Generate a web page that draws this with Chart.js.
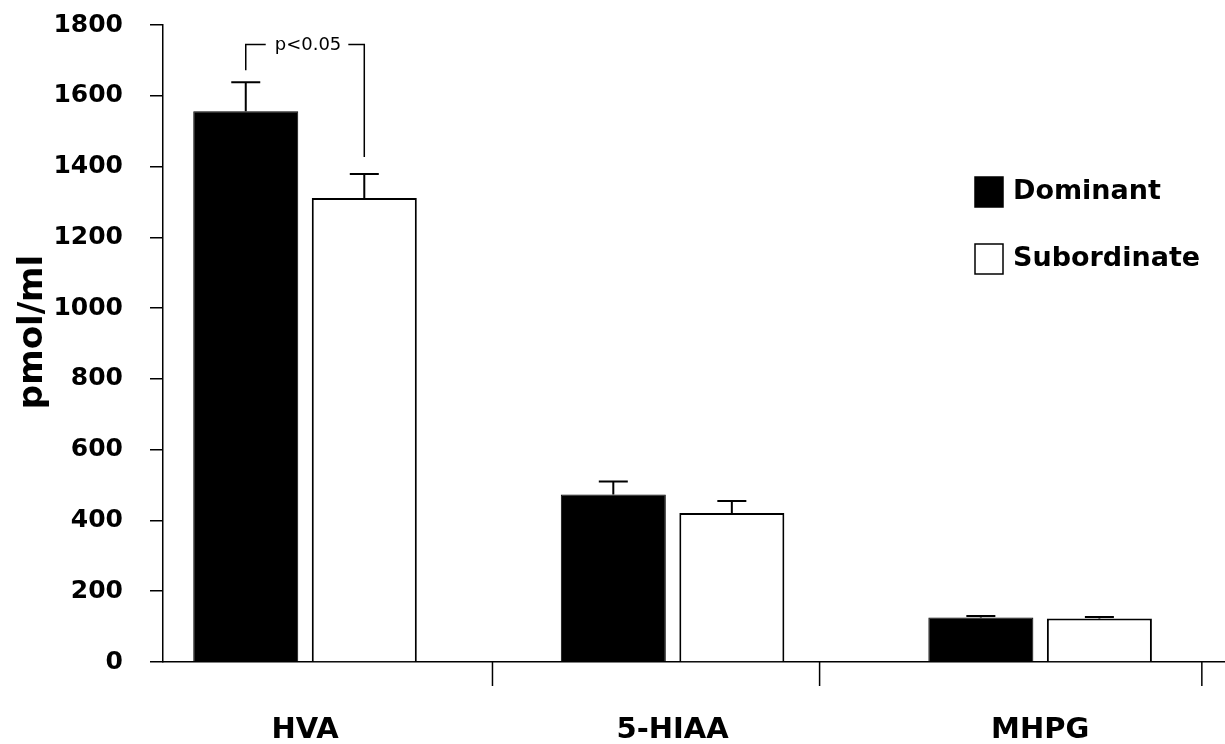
<!DOCTYPE html>
<html lang="en">
<head>
    <meta charset="UTF-8">
    <title>pmol/ml by group</title>
    <script src="https://cdn.jsdelivr.net/npm/chart.js"></script>
    <style>
        body {
            margin: 0;
            padding: 0;
            background: #fff;
        }
        .chart-container {
            position: relative;
            width: 1225px;
            height: 744px;
        }
    </style>
</head>
<body>

    <div class="chart-container">
        <canvas id="barChart"></canvas>
    </div>

    <script>
        const categories = ['HVA', '5-HIAA', 'MHPG'];
        const seriesNames = ['Dominant', 'Subordinate'];
        const dominant = [1556, 473, 126];
        const subordinate = [1311, 421, 123];
        const dominantErr = [82, 37, 4];     // SEM, upper whisker only
        const subordinateErr = [68, 34, 4];
        const yTicks = [0, 200, 400, 600, 800, 1000, 1200, 1400, 1600, 1800];
        const xTickMarks = [1.51, 2.40, 3.44]; // stray tick marks under the axis
        const sigLabel = 'p<0.05';
        const sigBracket = [1672, 1745, 1427]; // left leg bottom, top line, right leg bottom
        const yTitle = 'pmol/ml';

        const FONT = 'DejaVu Sans';

        // error bars on top of each bar
        const errorBars = {
            id: 'errorBars',
            afterDatasetsDraw(chart) {
                const ctx = chart.ctx;
                const y = chart.scales.y;
                const errs = [dominantErr, subordinateErr];
                const vals = [dominant, subordinate];
                ctx.save();
                ctx.strokeStyle = '#000';
                ctx.lineWidth = 2;
                chart.data.datasets.forEach((ds, i) => {
                    chart.getDatasetMeta(i).data.forEach((bar, j) => {
                        const top = y.getPixelForValue(vals[i][j] + errs[i][j]);
                        ctx.beginPath();
                        ctx.moveTo(bar.x, bar.y);
                        ctx.lineTo(bar.x, top);
                        ctx.moveTo(bar.x - 14.5, top);
                        ctx.lineTo(bar.x + 14.5, top);
                        ctx.stroke();
                    });
                });
                ctx.restore();
            }
        };

        // significance bracket, legend, axis title, tick marks under x axis
        const extras = {
            id: 'extras',
            afterDraw(chart) {
                const ctx = chart.ctx;
                const x = chart.scales.x;
                const y = chart.scales.y;
                const area = chart.chartArea;
                ctx.save();
                ctx.strokeStyle = '#000';
                ctx.fillStyle = '#000';
                ctx.lineWidth = 1.5;

                // tick marks
                xTickMarks.forEach(v => {
                    const px = x.getPixelForValue(v);
                    ctx.beginPath();
                    ctx.moveTo(px, area.bottom);
                    ctx.lineTo(px, area.bottom + 24);
                    ctx.stroke();
                });

                // bracket
                const lx = chart.getDatasetMeta(0).data[0].x;
                const rx = chart.getDatasetMeta(1).data[0].x;
                const ty = y.getPixelForValue(sigBracket[1]);
                ctx.font = '18px "' + FONT + '"';
                const w = ctx.measureText(sigLabel).width;
                const cx = (lx + rx) / 2 + 3;
                ctx.beginPath();
                ctx.moveTo(lx, y.getPixelForValue(sigBracket[0]));
                ctx.lineTo(lx, ty);
                ctx.lineTo(cx - w / 2 - 9, ty);
                ctx.moveTo(cx + w / 2 + 7, ty);
                ctx.lineTo(rx, ty);
                ctx.lineTo(rx, y.getPixelForValue(sigBracket[2]));
                ctx.stroke();
                ctx.textAlign = 'center';
                ctx.textBaseline = 'middle';
                ctx.fillText(sigLabel, cx, ty + 1);

                // y axis title
                ctx.save();
                ctx.translate(33, 332);
                ctx.rotate(-Math.PI / 2);
                ctx.font = 'bold 34px "' + FONT + '"';
                ctx.fillText(yTitle, 0, 0);
                ctx.restore();

                // legend
                ctx.font = 'bold 27px "' + FONT + '"';
                ctx.textAlign = 'left';
                const rows = [192, 259];
                chart.data.datasets.forEach((ds, i) => {
                    const cy = rows[i];
                    ctx.fillStyle = ds.backgroundColor;
                    ctx.fillRect(975, cy - 15, 28, 30);
                    ctx.strokeRect(975, cy - 15, 28, 30);
                    ctx.fillStyle = '#000';
                    ctx.fillText(ds.label, 1013, cy);
                });
                ctx.restore();
            }
        };

        const ctx = document.getElementById('barChart').getContext('2d');
        const barChart = new Chart(ctx, {
            type: 'bar',
            data: {
                datasets: [{
                    label: seriesNames[0],
                    data: dominant.map((v, i) => ({ x: i + 1, y: v })),
                    backgroundColor: '#000',
                    borderColor: '#000',
                    borderWidth: 1
                }, {
                    label: seriesNames[1],
                    data: subordinate.map((v, i) => ({ x: i + 1, y: v })),
                    backgroundColor: '#fff',
                    borderColor: '#000',
                    borderWidth: 2
                }]
            },
            options: {
                responsive: true,
                maintainAspectRatio: false,
                animation: false,
                categoryPercentage: 0.645,
                barPercentage: 0.886,
                layout: {
                    padding: { top: 25, right: 0, bottom: 0, left: 0 }
                },
                scales: {
                    x: {
                        type: 'linear',
                        min: 0.6136,
                        max: 3.503,
                        offset: false,
                        afterBuildTicks: axis => {
                            axis.ticks = categories.map((c, i) => ({ value: i + 1 }));
                        },
                        afterFit: scale => { scale.height = 82; },
                        grid: { display: false, drawTicks: false },
                        border: { display: true, color: '#000', width: 1.5 },
                        ticks: {
                            color: '#000',
                            padding: 51,
                            maxRotation: 0,
                            font: { family: FONT, size: 29, weight: 'bold' },
                            callback: v => categories[v - 1] || ''
                        }
                    },
                    y: {
                        min: 0,
                        max: 1800,
                        afterBuildTicks: axis => {
                            axis.ticks = yTicks.map(v => ({ value: v }));
                        },
                        afterFit: scale => {
                            scale.width = 163;
                            scale.paddingTop = 0;
                            scale.paddingBottom = 0;
                        },
                        grid: {
                            drawOnChartArea: false,
                            drawTicks: true,
                            tickLength: 13,
                            color: '#000',
                            lineWidth: 1.5
                        },
                        border: { display: true, color: '#000', width: 1.5 },
                        ticks: {
                            color: '#000',
                            padding: 27,
                            font: { family: FONT, size: 25, weight: 'bold' },
                            callback: v => String(v)
                        }
                    }
                },
                plugins: {
                    legend: { display: false },
                    tooltip: { enabled: false }
                }
            },
            plugins: [errorBars, extras]
        });
    </script>
</body>
</html>
